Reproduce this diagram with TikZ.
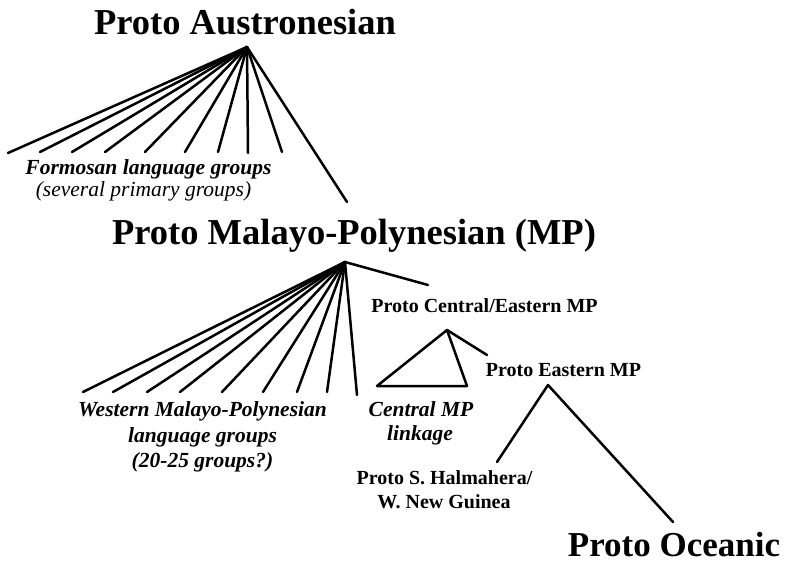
\documentclass[tikz,border=0pt]{standalone}
\usepackage{fontspec}
\setmainfont{Liberation Serif}
\begin{document}
\begin{tikzpicture}[x=1pt,y=-1pt,
  branch/.style={line width=2.5pt,line cap=round,line join=round},
  bigtitle/.style={anchor=base,inner sep=0pt,font=\fontsize{36.5}{40}\selectfont\bfseries},
  smallbold/.style={anchor=base,inner sep=0pt,font=\fontsize{20}{22}\selectfont\bfseries},
  smallbi/.style={anchor=base,inner sep=0pt,font=\fontsize{21.5}{23}\selectfont\bfseries\itshape},
  smallit/.style={anchor=base,inner sep=0pt,font=\fontsize{21.5}{23}\selectfont\itshape}]
\useasboundingbox[fill=white] (0,0) rectangle (788,564);

% labels
\node[bigtitle] (pan) at (245,35) {Proto Austronesian};
\node[smallbi] (form1) at (148.5,175) {Formosan language groups};
\node[smallit] (form2) at (143.5,197) {(several primary groups)};
\node[bigtitle] (pmp) at (354,245) {Proto Malayo-Polynesian (MP)};
\node[smallbold] (pcemp) at (484.5,313) {Proto Central/Eastern MP};
\node[smallbold] (pemp) at (563.5,377) {Proto Eastern MP};
\node[smallbi] (wmp1) at (202.5,417) {Western Malayo-Polynesian};
\node[smallbi] (wmp2) at (202.5,442) {language groups};
\node[smallbi] (wmp3) at (202.5,467) {(20-25 groups?)};
\node[smallbi] (cmp1) at (421,417) {Central MP};
\node[smallbi] (cmp2) at (420,440) {linkage};
\node[smallbold] (shwng1) at (444.5,484) {Proto S. Halmahera/};
\node[smallbold] (shwng2) at (444,508) {W. New Guinea};
\node[anchor=base,inner sep=0pt,font=\fontsize{35}{40}\selectfont\bfseries] (poc) at (674,556) {Proto Oceanic};

% Proto Austronesian fan
\coordinate (a0) at (247,47);
\foreach \x/\y [count=\i] in {8/153,40/152,72/152,105/152,145/152,185/152,218/152,248/153,282/152}
  \coordinate (af\i) at (\x,\y);
\coordinate (aMP) at (347,202);
\foreach \i in {1,...,9} \draw[branch] (a0) -- (af\i);
\draw[branch] (a0) -- (aMP);

% Proto Malayo-Polynesian fan
\coordinate (m0) at (345,262);
\foreach \x/\y [count=\i] in {83/392,113/392,147/392,180/392,222/392,263/392,297/392,327/392,357/395}
  \coordinate (mf\i) at (\x,\y);
\coordinate (mCE) at (428,285);
\foreach \i in {1,...,9} \draw[branch] (m0) -- (mf\i);
\draw[branch] (m0) -- (mCE);

% Central/Eastern
\coordinate (c0) at (447,330);
\coordinate (cL) at (377,386);
\coordinate (cR) at (467,386);
\coordinate (cE) at (487,355);
\draw[branch] (cR) -- (c0) -- (cL) -- cycle;
\draw[branch] (c0) -- (cE);

% Eastern MP
\coordinate (e0) at (548,385);
\coordinate (eL) at (497,462);
\coordinate (eR) at (673,522);
\draw[branch] (eL) -- (e0) -- (eR);
\end{tikzpicture}
\end{document}
